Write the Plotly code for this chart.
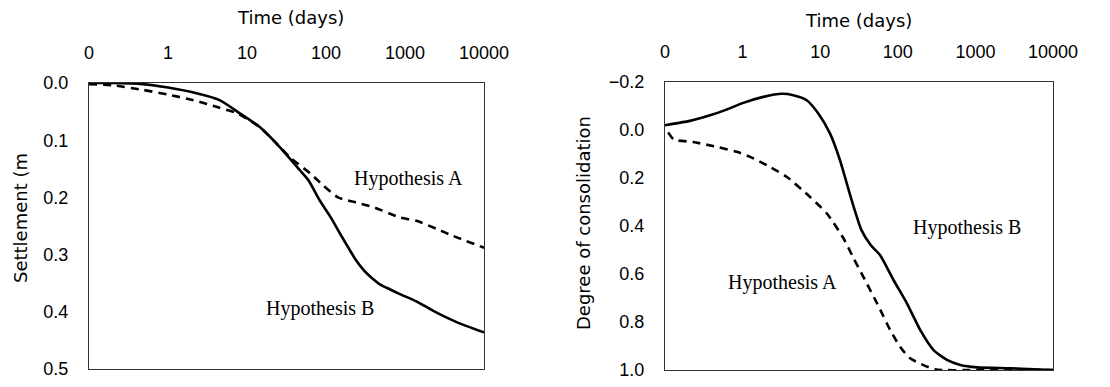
import plotly.graph_objects as go

# ---- data ----
tick_vals = [0.1, 1, 10, 100, 1000, 10000]
tick_text = ["0", "1", "10", "100", "1000", "10000"]

# Left panel: settlement (m)
settle_B_t = [0.1, 0.2, 0.48, 1.0, 2.3, 4.5, 8.1, 14.5, 26, 47, 60, 83, 115, 150, 190, 240, 300, 380, 480, 650, 860, 1400, 2250, 4500, 10000]
settle_B_v = [0.0, 0.0, 0.002, 0.008, 0.018, 0.030, 0.053, 0.077, 0.112, 0.153, 0.170, 0.205, 0.235, 0.263, 0.287, 0.310, 0.327, 0.341, 0.352, 0.361, 0.369, 0.382, 0.398, 0.418, 0.436]

settle_A_t = [0.1, 0.2, 0.48, 0.97, 2.1, 4.2, 7.5, 14.5, 21.5, 35, 63, 92, 142, 240, 400, 860, 1400, 2500, 4000, 10000]
settle_A_v = [0.002, 0.004, 0.012, 0.020, 0.030, 0.042, 0.053, 0.077, 0.100, 0.130, 0.158, 0.179, 0.200, 0.209, 0.217, 0.235, 0.241, 0.255, 0.267, 0.288]

# Right panel: degree of consolidation
cons_B_t = [0.1, 0.21, 0.38, 0.62, 1.02, 1.85, 3.2, 4.5, 6.7, 9.5, 13.4, 18, 24, 34, 45, 59, 88, 131, 195, 289, 430, 640, 1050, 2820, 10000]
cons_B_v = [-0.020, -0.038, -0.061, -0.085, -0.113, -0.138, -0.151, -0.145, -0.124, -0.068, 0.015, 0.126, 0.265, 0.417, 0.480, 0.521, 0.625, 0.722, 0.834, 0.917, 0.958, 0.979, 0.989, 0.993, 1.0]

cons_A_t = [0.11, 0.13, 0.23, 0.46, 0.84, 1.25, 2.26, 3.7, 7.4, 12.2, 20, 27, 36, 54, 80, 107, 144, 300, 1000, 10000]
cons_A_v = [0.010, 0.040, 0.050, 0.070, 0.091, 0.112, 0.154, 0.195, 0.279, 0.348, 0.452, 0.535, 0.612, 0.722, 0.834, 0.903, 0.951, 0.997, 1.0, 1.0]

minor_vals = [k * 10 ** e for e in range(-1, 4) for k in range(2, 10)]

fig = go.Figure()
line_solid = dict(color="black", width=2.6, shape="spline", smoothing=0.6)
line_dash = dict(color="black", width=2.6, dash="8px,6px", shape="spline", smoothing=0.6)

fig.add_trace(go.Scatter(x=settle_B_t, y=settle_B_v, mode="lines", line=line_solid, xaxis="x", yaxis="y", name="Hypothesis B"))
fig.add_trace(go.Scatter(x=settle_A_t, y=settle_A_v, mode="lines", line=line_dash, xaxis="x", yaxis="y", name="Hypothesis A"))
fig.add_trace(go.Scatter(x=cons_B_t, y=cons_B_v, mode="lines", line=line_solid, xaxis="x2", yaxis="y2", name="Hypothesis B"))
fig.add_trace(go.Scatter(x=cons_A_t, y=cons_A_v, mode="lines", line=line_dash, xaxis="x2", yaxis="y2", name="Hypothesis A"))

tick_font = dict(family="Liberation Sans, Arial, sans-serif", size=18, color="black")
title_font = dict(family="DejaVu Sans, sans-serif", size=18, color="black")
ann_font = dict(family="Liberation Serif, Times New Roman, serif", size=20, color="black")

W, H = 1110, 387
L_x = [89 / W, 484 / W]
R_x = [665 / W, 1053 / W]
L_y = [1 - 369 / H, 1 - 83 / H]
R_y = [1 - 370 / H, 1 - 82 / H]
L_yr = [0.5, 0.0]
R_yr = [1.0, -0.2]

def xaxis_cfg(domain, anchor):
    return dict(
        type="log", range=[-1, 4], domain=domain, anchor=anchor, side="top",
        tickvals=tick_vals, ticktext=tick_text, ticks="", tickfont=tick_font, ticklabelstandoff=16,
        showline=True, linecolor="#333", linewidth=1.2, mirror=True,
        showgrid=False, zeroline=False, automargin=False,
    )

def yaxis_cfg(domain, anchor, rng, dtick):
    return dict(
        range=rng, domain=domain, anchor=anchor, dtick=dtick, tickformat=".1f",
        ticks="", tickfont=tick_font, ticklabelstandoff=16,
        showline=True, linecolor="#333", linewidth=1.2, mirror=True,
        showgrid=False, zeroline=False, automargin=False,
    )

# tick-only helper axes: outward ticks of an axis placed on the far side point into the panel
def xtick_cfg(domain, anchor):
    return dict(
        type="log", range=[-1, 4], domain=domain, anchor=anchor, side="bottom",
        tickvals=tick_vals, ticks="outside", ticklen=7, tickwidth=1.3, tickcolor="#222",
        minor=dict(tickvals=minor_vals, ticks="outside", ticklen=4, tickwidth=1, tickcolor="#222", showgrid=False),
        showticklabels=False, showline=False, showgrid=False, zeroline=False, automargin=False,
    )

def ytick_cfg(domain, anchor, rng, dtick):
    return dict(
        range=rng, domain=domain, anchor=anchor, side="right", dtick=dtick,
        ticks="outside", ticklen=6, tickwidth=1.3, tickcolor="#222",
        showticklabels=False, showline=False, showgrid=False, zeroline=False, automargin=False,
    )

def hidden(domain, anchor, rng=None):
    d = dict(domain=domain, anchor=anchor, visible=False, showgrid=False, zeroline=False, automargin=False)
    if rng is not None:
        d["range"] = rng
    return d

fig.update_layout(
    width=W, height=H,
    margin=dict(l=0, r=0, t=0, b=0),
    paper_bgcolor="white", plot_bgcolor="rgba(0,0,0,0)",
    showlegend=False,
    xaxis=xaxis_cfg(L_x, "y"),
    yaxis=yaxis_cfg(L_y, "x", L_yr, 0.1),
    xaxis2=xaxis_cfg(R_x, "y2"),
    yaxis2=yaxis_cfg(R_y, "x2", R_yr, 0.2),
    # top-edge inward ticks
    xaxis3=xtick_cfg(L_x, "y3"),
    yaxis3=hidden([L_y[1], L_y[1] + 0.01], "x3", [0, 1]),
    xaxis4=xtick_cfg(R_x, "y4"),
    yaxis4=hidden([R_y[1], R_y[1] + 0.01], "x4", [0, 1]),
    # left-edge inward ticks
    yaxis5=ytick_cfg(L_y, "x5", L_yr, 0.1),
    xaxis5=hidden([L_x[0] - 0.005, L_x[0]], "y5", [0, 1]),
    yaxis6=ytick_cfg(R_y, "x6", R_yr, 0.2),
    xaxis6=hidden([R_x[0] - 0.005, R_x[0]], "y6", [0, 1]),
    annotations=[
        dict(text="Time (days)", x=290 / W, y=1 - 18 / H, xref="paper", yref="paper",
             showarrow=False, font=title_font, xanchor="center", yanchor="middle"),
        dict(text="Time (days)", x=858 / W, y=1 - 20 / H, xref="paper", yref="paper",
             showarrow=False, font=title_font, xanchor="center", yanchor="middle"),
        dict(text="Settlement (m", x=20 / W, y=1 - 218 / H, xref="paper", yref="paper",
             showarrow=False, font=title_font, textangle=-90, xanchor="center", yanchor="middle"),
        dict(text="Degree of consolidation", x=583 / W, y=1 - 223 / H, xref="paper", yref="paper",
             showarrow=False, font=title_font, textangle=-90, xanchor="center", yanchor="middle"),
        dict(text="Hypothesis A", x=3.04, y=0.167, xref="x", yref="y", showarrow=False, font=ann_font),
        dict(text="Hypothesis B", x=1.92, y=0.395, xref="x", yref="y", showarrow=False, font=ann_font),
        dict(text="Hypothesis B", x=2.89, y=0.408, xref="x2", yref="y2", showarrow=False, font=ann_font),
        dict(text="Hypothesis A", x=0.508, y=0.637, xref="x2", yref="y2", showarrow=False, font=ann_font),
    ],
)

fig.write_html("out.html")
